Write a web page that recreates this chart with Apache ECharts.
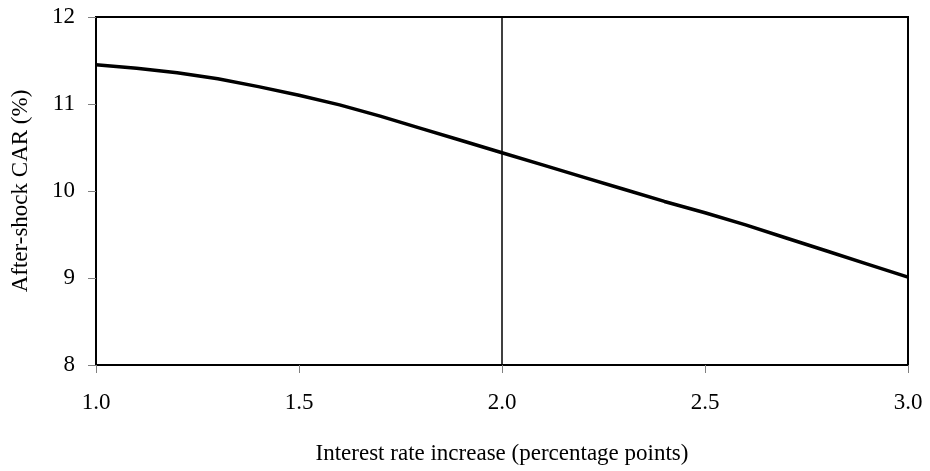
<!DOCTYPE html>
<html>
<head>
<meta charset="utf-8">
<script src="https://cdn.jsdelivr.net/npm/echarts@6/dist/echarts.min.js"></script>
<style>
  html, body { margin: 0; padding: 0; background: #fff; }
  #chart { width: 930px; height: 471px; }
</style>
</head>
<body>
<div id="chart"></div>
<script>
// 利率上升幅度（百分点）
const rateIncrease = [1.0, 1.1, 1.2, 1.3, 1.4, 1.5, 1.6, 1.7, 1.8, 1.9, 2.0,
  2.1, 2.2, 2.3, 2.4, 2.5, 2.6, 2.7, 2.8, 2.9, 3.0];
// 冲击后资本充足率 (%)
const carAfterShock = [11.45, 11.41, 11.36, 11.29, 11.20, 11.10, 10.99, 10.86, 10.72, 10.58, 10.44,
  10.30, 10.16, 10.02, 9.88, 9.75, 9.61, 9.46, 9.31, 9.16, 9.01];
const markX = 2.0;

const font = 'Liberation Serif';
const chart = echarts.init(document.getElementById('chart'));

let points = [];
for (let i in rateIncrease) {
  points.push([rateIncrease[i], carAfterShock[i]]);
}

chart.setOption({
  animation: false,
  grid: {
    left: 96, right: 22, top: 17, bottom: 106,
    show: true, borderColor: '#000', borderWidth: 2
  },
  xAxis: {
    type: 'value', min: 1, max: 3, interval: 0.5,
    name: 'Interest rate increase (percentage points)',
    nameLocation: 'middle', nameGap: 77,
    nameTextStyle: { fontFamily: font, fontSize: 23, color: '#000' },
    axisLine: { show: true, lineStyle: { color: '#000', width: 2 } },
    axisTick: { show: true, length: 8, lineStyle: { color: '#808080' } },
    axisLabel: {
      margin: 26, fontFamily: font, fontSize: 23, color: '#000',
      formatter: v => v.toFixed(1)
    },
    splitLine: { show: false }
  },
  yAxis: {
    type: 'value', min: 8, max: 12, interval: 1,
    name: 'After-shock CAR (%)',
    nameLocation: 'middle', nameGap: 64,
    nameTextStyle: { fontFamily: font, fontSize: 23, color: '#000' },
    axisLine: { show: true, lineStyle: { color: '#000', width: 2 } },
    axisTick: { show: true, length: 8, lineStyle: { color: '#808080' } },
    axisLabel: { margin: 21, fontFamily: font, fontSize: 23, color: '#000' },
    splitLine: { show: false }
  },
  series: [{
    type: 'line',
    data: points,
    showSymbol: false,
    lineStyle: { color: '#000', width: 3.5 },
    markLine: {
      silent: true, symbol: 'none',
      label: { show: false },
      lineStyle: { color: '#000', width: 1.5, type: 'solid' },
      data: [{ xAxis: markX }]
    }
  }]
});
</script>
</body>
</html>
